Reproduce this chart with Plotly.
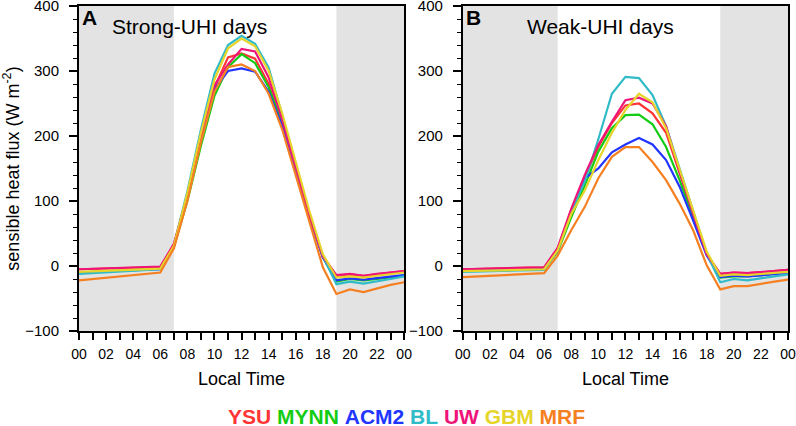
import plotly.graph_objects as go

hours = list(range(25))
tick_labels = ["%02d" % (h % 24) if h % 2 == 0 else "" for h in hours]
night_spans = [(0, 7), (19, 24)]
panel_titles = ["Strong-UHI days", "Weak-UHI days"]
panel_letters = ["A", "B"]
schemes = ["YSU", "MYNN", "ACM2", "BL", "UW", "GBM", "MRF"]
colors = ["#FF3535", "#14CC14", "#2035FF", "#30BBC8", "#EE1478", "#E6D42A", "#F58022"]

# Strong-UHI days (panel A)
strong_YSU  = [-5, -4.5, -4, -3.5, -3, -2.5, -1.5, 31, 106, 198, 275, 321, 327, 319, 280, 222, 150, 78, 13, -15, -13, -15, -13, -10, -8]
strong_MYNN = [-10, -9, -8, -7, -6, -5, -4, 29, 100, 185, 262, 306, 326, 312, 275, 220, 150, 78, 14, -24, -20, -22, -20, -17, -15]
strong_ACM2 = [-10, -9, -8, -7.5, -7, -6, -5, 30, 105, 195, 272, 300, 304, 299, 268, 215, 148, 76, 13, -22, -19, -21, -19, -16, -14]
strong_BL   = [-12, -11, -10, -9, -8, -6.5, -5, 32, 115, 210, 296, 340, 354, 342, 305, 232, 152, 80, 15, -28, -24, -27, -24, -20, -16]
strong_UW   = [-5, -4.5, -4, -3, -2.5, -1.5, -1, 34, 108, 200, 278, 310, 334, 330, 290, 225, 152, 78, 15, -14, -12, -15, -12, -10, -8]
strong_GBM  = [-9, -8, -7.5, -6.5, -6, -5, -4, 31, 112, 205, 287, 335, 350, 338, 300, 235, 158, 85, 18, -18, -16, -18, -15, -12, -10]
strong_MRF  = [-22, -20, -18, -16, -14, -12, -10, 27, 100, 190, 268, 306, 310, 300, 265, 210, 140, 68, -2, -43, -36, -40, -34, -29, -25]

# Weak-UHI days (panel B)
weak_YSU  = [-5, -4.5, -4, -3.5, -3, -2.5, -2, 27, 86, 137, 183, 220, 247, 250, 235, 205, 142, 80, 18, -12, -10, -11, -9, -8, -6]
weak_MYNN = [-8, -7.5, -7, -6.5, -6, -5.5, -5, 22, 75, 124, 176, 212, 232, 233, 218, 183, 132, 75, 20, -18, -16, -16, -14, -12, -10]
weak_ACM2 = [-7, -6.5, -6, -6, -5.5, -5, -5, 24, 84, 135, 150, 175, 187, 197, 187, 163, 122, 70, 16, -17, -15, -16, -14, -12, -11]
weak_BL   = [-9, -8.5, -8, -7.5, -7, -6.5, -6, 25, 85, 130, 195, 265, 291, 289, 263, 215, 150, 86, 19, -25, -20, -22, -19, -16, -13]
weak_UW   = [-5, -4.5, -4, -3.5, -3, -2.5, -2, 28, 88, 140, 186, 222, 255, 259, 250, 215, 145, 80, 18, -12, -10, -11, -9, -8, -6]
weak_GBM  = [-8, -7.5, -7, -6.5, -6, -5.5, -5, 24, 80, 116, 163, 205, 240, 265, 252, 212, 148, 84, 22, -15, -13, -14, -12, -10, -9]
weak_MRF  = [-17, -16, -14, -13, -12, -11.5, -11, 16, 55, 91, 135, 168, 183, 183, 160, 132, 96, 55, 1, -36, -31, -31, -27, -24, -21]

strong = [strong_YSU, strong_MYNN, strong_ACM2, strong_BL, strong_UW, strong_GBM, strong_MRF]
weak = [weak_YSU, weak_MYNN, weak_ACM2, weak_BL, weak_UW, weak_GBM, weak_MRF]

fig = go.Figure()
for i, name in enumerate(schemes):
    fig.add_trace(go.Scatter(x=hours, y=strong[i], mode="lines", name=name,
                             line=dict(color=colors[i], width=2.2), xaxis="x", yaxis="y",
                             showlegend=False))
    fig.add_trace(go.Scatter(x=hours, y=weak[i], mode="lines", name=name,
                             line=dict(color=colors[i], width=2.2), xaxis="x2", yaxis="y2",
                             showlegend=False))

shapes = []
for xr, yr in [("x", "y domain"), ("x2", "y2 domain")]:
    for a, b in night_spans:
        shapes.append(dict(type="rect", xref=xr, yref=yr, x0=a, x1=b, y0=0, y1=1,
                           fillcolor="#E3E3E3", line=dict(width=0), layer="below"))

font_main = "Liberation Sans, Arial, sans-serif"
xcommon = dict(range=[0, 24], tickmode="array", tickvals=hours, ticktext=tick_labels,
               ticks="outside", ticklen=7, tickwidth=2, tickcolor="black",
               showline=True, linecolor="black", linewidth=2, mirror=True,
               showgrid=False, zeroline=False, automargin=False, ticklabeloverflow="allow",
               ticklabelstandoff=2,
               tickfont=dict(size=14, color="black", family=font_main),
               title=dict(text="Local Time", font=dict(size=18, color="black", family=font_main), standoff=12))
ycommon = dict(range=[-100, 400], tickvals=[-100, 0, 100, 200, 300, 400],
               ticks="outside", ticklen=8, tickwidth=2, tickcolor="black",
               minor=dict(dtick=20, ticks="outside", ticklen=4, tickwidth=1, tickcolor="black"),
               showline=True, linecolor="black", linewidth=2, mirror=True,
               showgrid=False, zeroline=False, automargin=False, ticklabeloverflow="allow",
               ticklabelstandoff=7,
               tickfont=dict(size=15, color="black", family=font_main))

fig.update_layout(
    width=796, height=426,
    margin=dict(l=79, r=8, t=6, b=95),
    plot_bgcolor="white", paper_bgcolor="white",
    xaxis=dict(domain=[0, 0.4586], anchor="y", **xcommon),
    xaxis2=dict(domain=[0.5414, 1], anchor="y2", **xcommon),
    yaxis=dict(anchor="x", title=dict(text="sensible heat flux (W m<sup>-2</sup>)",
               font=dict(size=18, color="black", family=font_main), standoff=4), **ycommon),
    yaxis2=dict(anchor="x2", **ycommon),
    shapes=shapes,
    showlegend=False,
)

annotations = []
for xr, letter in [("x", panel_letters[0]), ("x2", panel_letters[1])]:
    annotations.append(dict(xref=xr + " domain", yref="y domain", x=0.002, y=0.966,
                            xanchor="left", yanchor="middle", showarrow=False,
                            text="<b>%s</b>" % letter,
                            font=dict(size=21, color="black", family=font_main)))
for xr, title, tx in [("x", panel_titles[0], 0.095), ("x2", panel_titles[1], 0.19)]:
    annotations.append(dict(xref=xr + " domain", yref="y domain", x=tx, y=0.937,
                            xanchor="left", yanchor="middle", showarrow=False, text=title,
                            font=dict(size=21, color="black", family=font_main)))

sep = "&nbsp;"
legend_text = sep.join('<span style="color:%s"><b>%s</b></span>' % (c, n) for n, c in zip(schemes, colors))
annotations.append(dict(xref="paper", yref="paper", x=0.462, y=-0.262, xanchor="center", yanchor="middle",
                        showarrow=False, text=legend_text,
                        font=dict(size=21, family=font_main)))
fig.update_layout(annotations=annotations)

fig.write_html("out.html", config={"displayModeBar": False},
               post_script="document.body.style.margin='0px';document.body.style.overflow='hidden';")
